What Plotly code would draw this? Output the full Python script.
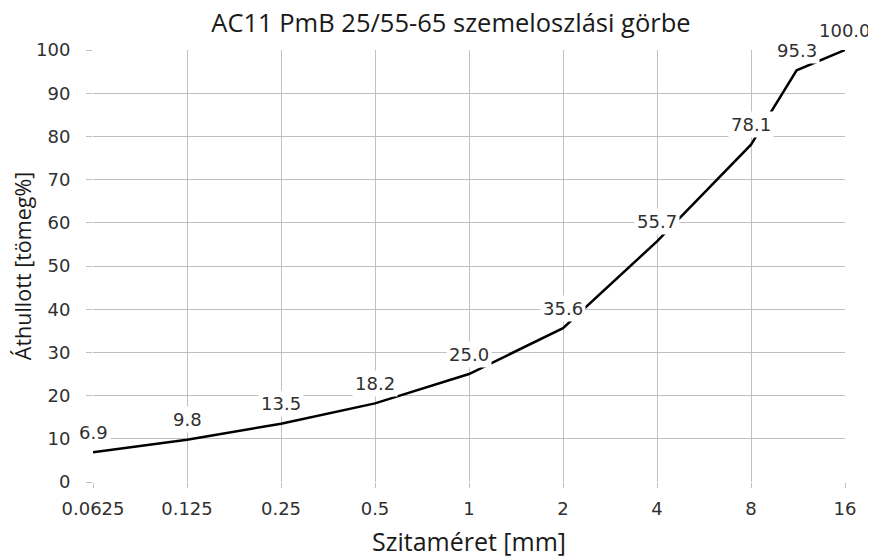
import numpy as np
import plotly.graph_objects as go

# Data
sieve_sizes = [0.0625, 0.125, 0.25, 0.5, 1, 2, 4, 8, 11.2, 16]
passing = [6.9, 9.8, 13.5, 18.2, 25.0, 35.6, 55.7, 78.1, 95.3, 100.0]
x_tick_vals = [0.0625, 0.125, 0.25, 0.5, 1, 2, 4, 8, 16]
x_tick_labels = ["0.0625", "0.125", "0.25", "0.5", "1", "2", "4", "8", "16"]
y_tick_vals = [0, 10, 20, 30, 40, 50, 60, 70, 80, 90, 100]
y_tick_labels = ["0", "10", "20", "30", "40", "50", "60", "70", "80", "90", "100"]

title_text = "AC11 PmB 25/55-65 szemeloszlási görbe"
x_title = "Szitaméret [mm]"
y_title = "Áthullott [tömeg%]"

TICK_FONT = dict(family="DejaVu Sans", size=18, color="#303030")
TITLE_FAMILY = "Open Sans"
GRID = "#c0c0c0"

fig = go.Figure()
fig.add_trace(go.Scatter(
    x=sieve_sizes, y=passing, mode="lines",
    line=dict(color="#000000", width=2.5),
    hoverinfo="x+y", showlegend=False,
))

for xv, yv in zip(sieve_sizes, passing):
    fig.add_annotation(
        x=np.log10(xv), y=yv, xref="x", yref="y",
        text=f"{yv:.1f}", showarrow=False,
        yshift=20, bgcolor="#ffffff", borderpad=2,
        font=TICK_FONT,
    )

fig.update_layout(
    width=868, height=550,
    margin=dict(l=85, r=31, t=42, b=76, autoexpand=False),
    paper_bgcolor="#ffffff", plot_bgcolor="#ffffff",
    title=dict(text=title_text, x=0.476, xref="paper", xanchor="center",
               y=0.972, yref="container", yanchor="middle",
               font=dict(family=TITLE_FAMILY, size=25.5, color="#1a1a1a")),
    showlegend=False,
)

fig.update_xaxes(
    type="log", automargin=False,
    range=[np.log10(0.0625), np.log10(16)],
    tickvals=x_tick_vals, ticktext=x_tick_labels,
    showgrid=True, gridcolor=GRID, gridwidth=1.3,
    ticks="outside", ticklen=5, tickcolor=GRID, tickwidth=1.3,
    showline=False, zeroline=False,
    tickfont=TICK_FONT, ticklabelstandoff=5,
    title=dict(text=x_title, font=dict(family=TITLE_FAMILY, size=25, color="#1a1a1a"),
               standoff=18),
)
fig.update_yaxes(
    range=[0, 100], automargin=False,
    tickvals=y_tick_vals, ticktext=y_tick_labels,
    showgrid=True, gridcolor=GRID, gridwidth=1.3,
    ticks="outside", ticklen=6, tickcolor=GRID, tickwidth=1.3,
    showline=False, zeroline=False,
    tickfont=TICK_FONT, ticklabelstandoff=12,
    title=dict(text=y_title, font=dict(family=TITLE_FAMILY, size=21.5, color="#1a1a1a"),
               standoff=10),
)

fig.write_html("out.html")
